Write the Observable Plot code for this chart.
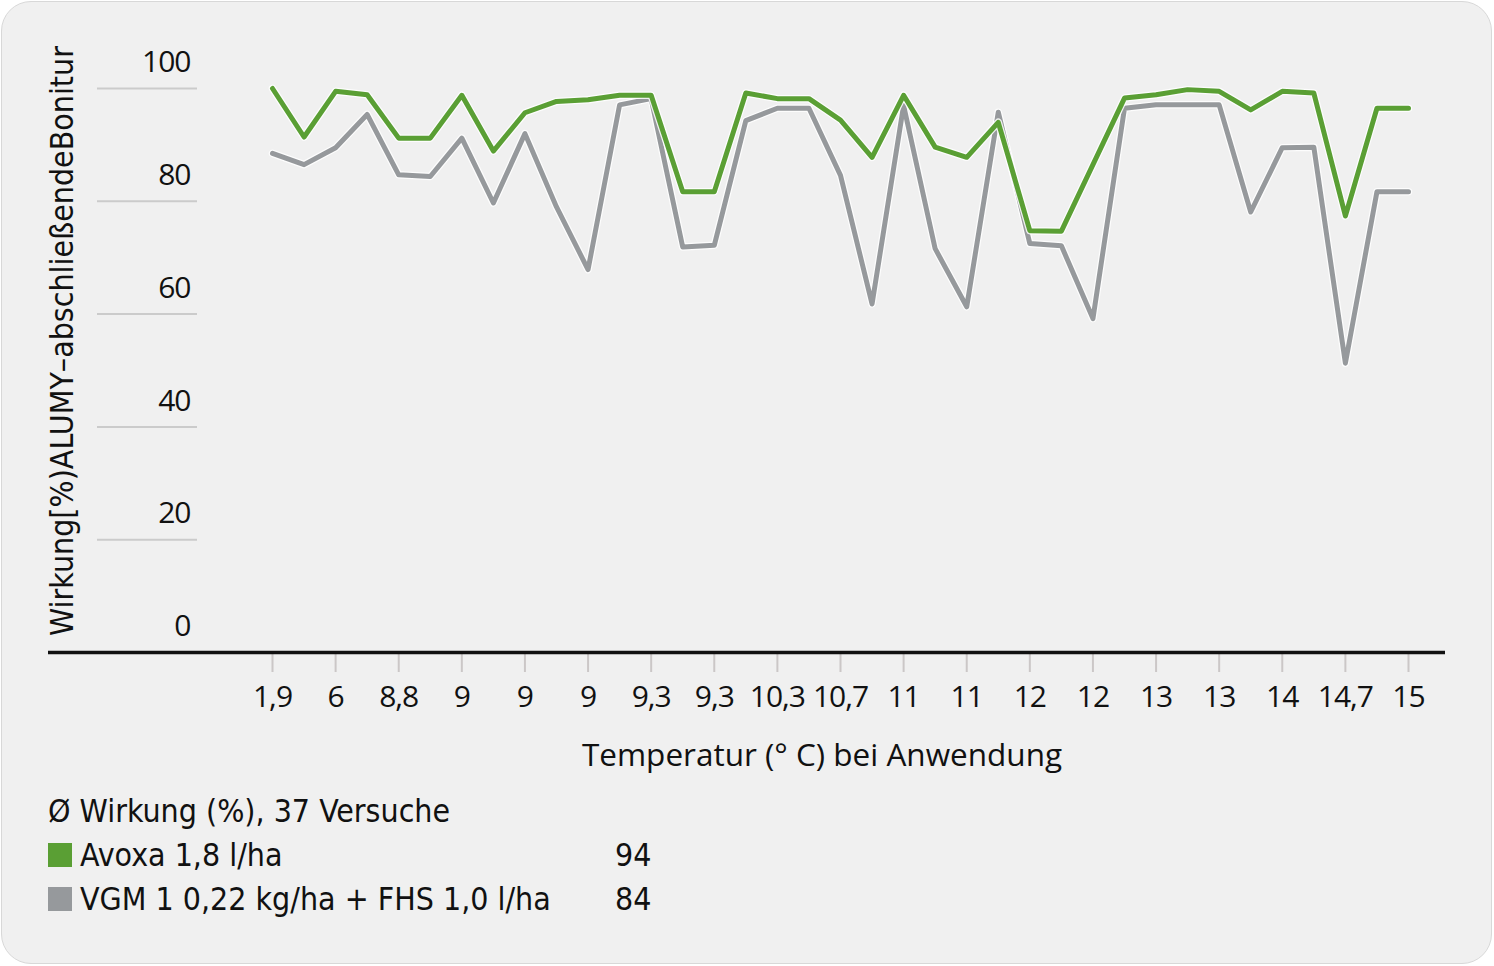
<!DOCTYPE html>
<html><head><meta charset="utf-8">
<script src="https://cdn.jsdelivr.net/npm/d3@7"></script>
<script src="https://cdn.jsdelivr.net/npm/@observablehq/plot@0.6"></script>
<style>
html,body{margin:0;padding:0;background:#ffffff;width:1494px;height:966px;overflow:hidden;}
#card{position:absolute;left:1px;top:1px;width:1491px;height:963px;box-sizing:border-box;background:#f0f0f0;border:1.5px solid #d8d8d8;border-radius:30px;}
#chart{position:absolute;left:0;top:0;}
.cond{font-family:"Liberation Sans Narrow","DejaVu Sans Condensed","Roboto Condensed",sans-serif;color:#111;}
#ytitle{position:absolute;left:-338px;top:321px;width:800px;height:40px;line-height:40px;text-align:center;font-size:31.8px;transform:rotate(-90deg);white-space:nowrap;}
#xtitle{position:absolute;left:322px;top:734px;width:1000px;line-height:40px;text-align:center;font-family:"Open Sans",sans-serif;font-weight:500;font-size:31.5px;color:#111;}
#legend{position:absolute;left:48px;top:789px;font-size:31.8px;}
.row{position:relative;height:44px;line-height:44px;white-space:nowrap;}
.sw{position:absolute;left:0;top:10px;width:24px;height:24px;}
.lab{position:absolute;left:32px;}
.val{position:absolute;left:567px;}
</style></head>
<body>
<div id="card"></div>
<div id="chart"></div>
<div id="ytitle" class="cond">Wirkung[%)ALUMY–abschließendeBonitur</div>
<div id="xtitle">Temperatur (° C) bei Anwendung</div>
<div id="legend" class="cond"></div>
<script>
// x-axis tick labels (temperature, every second trial)
const xLabels = ["1,9","6","8,8","9","9","9","9,3","9,3","10,3","10,7","11","11","12","12","13","13","14","14,7","15"];
// Avoxa 1,8 l/ha
const avoxa = [100,91.4,99.5,98.9,91.2,91.2,98.8,88.9,95.7,97.7,98.0,98.8,98.8,81.7,81.7,99.2,98.2,98.2,94.4,87.8,98.8,89.6,87.8,94.0,74.8,74.7,86.5,98.3,98.9,99.8,99.5,96.2,99.5,99.2,77.4,96.5,96.5];
// VGM 1 0,22 kg/ha + FHS 1,0 l/ha
const vgm = [88.5,86.5,89.5,95.4,84.7,84.4,91.2,79.7,92.0,79.0,67.9,97.1,98.2,71.9,72.2,94.3,96.5,96.5,84.6,61.8,97.0,71.6,61.3,95.8,72.5,72.1,59.2,96.5,97.1,97.1,97.1,78.1,89.5,89.6,51.3,81.7,81.7];
const yTicks = [0,20,40,60,80,100];
const yGrid = [20,40,60,80,100];
const legendTitle = "Ø Wirkung (%), 37 Versuche";
const seriesNames = ["Avoxa 1,8 l/ha","VGM 1 0,22 kg/ha + FHS 1,0 l/ha"];
const seriesMeans = [94,84];
const seriesColors = ["#5a9f34","#96999c"];

const xTickIdx = xLabels.map((_, k) => k * 2);
const toPts = arr => arr.map((v, i) => ({i, v}));
const gPts = toPts(avoxa), vPts = toPts(vgm);
const font = "'Open Sans', sans-serif";

const plot = Plot.plot({
  width: 1494, height: 730,
  marginLeft: 272, marginRight: 86, marginTop: 88, marginBottom: 78,
  style: {background: "transparent", overflow: "visible", fontFamily: font, fontWeight: 500},
  x: {domain: [0, 36]},
  y: {domain: [0, 100]},
  marks: [
    Plot.axisY(yGrid, {tickSize: 100, dx: -75, stroke: "#cbcbcb", strokeWidth: 2, tickFormat: () => "", label: null}),
    Plot.axisY(yTicks, {tickSize: 0, tickPadding: 0, dx: -82, dy: -26, fontSize: 30, fontFamily: font, fill: "#111", label: null}),
    Plot.axisX(xTickIdx, {tickSize: 20, tickPadding: 13, stroke: "#cbc7c7", strokeWidth: 2, fill: "#111", fontSize: 30, fontFamily: font, tickFormat: i => xLabels[i / 2], label: null}),
    Plot.ruleY([0], {stroke: "#111", strokeWidth: 3.5, insetLeft: -224, insetRight: -37}),
    Plot.line(vPts, {x: "i", y: "v", stroke: "#ffffff", strokeWidth: 7.5, strokeOpacity: 0.85}),
    Plot.line(vPts, {x: "i", y: "v", stroke: seriesColors[1], strokeWidth: 5, strokeLinecap: "round"}),
    Plot.line(gPts, {x: "i", y: "v", stroke: "#ffffff", strokeWidth: 7.5, strokeOpacity: 0.85}),
    Plot.line(gPts, {x: "i", y: "v", stroke: seriesColors[0], strokeWidth: 5, strokeLinecap: "round"})
  ]
});
plot.querySelectorAll("text").forEach(t => t.style.letterSpacing = "-1px");
document.getElementById("chart").appendChild(plot);

const leg = document.getElementById("legend");
let html = `<div class="row">${legendTitle}</div>`;
seriesNames.forEach((n, k) => {
  html += `<div class="row"><span class="sw" style="background:${seriesColors[k]}"></span><span class="lab">${n}</span><span class="val">${seriesMeans[k]}</span></div>`;
});
leg.innerHTML = html;
</script>
</body></html>
